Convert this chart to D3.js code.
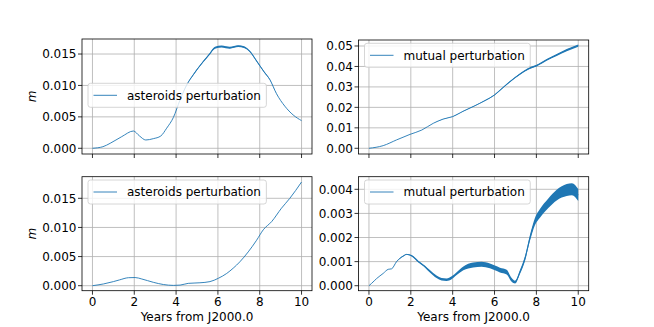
<!DOCTYPE html>
<html><head><meta charset="utf-8">
<script src="https://cdn.jsdelivr.net/npm/d3@7"></script>
<style>body{margin:0;background:#fff}text{font-family:"DejaVu Sans",sans-serif}</style>
</head><body><svg id="c" width="654" height="327"></svg>
<script>
// ---- data ----
const tlT = [0,0.5,0.85,1.4,1.96,2.25,2.55,2.91,3.27,3.55,3.87,4.19,4.51,4.82,5.3,5.6,5.86,6.18,6.57,6.97,7.25,7.53,7.85,8.2,8.49,8.8,9.2,9.6,10];
const tlV = [0,0.00025,0.0008,0.00185,0.00275,0.00196,0.00132,0.00153,0.00196,0.0032,0.0049,0.0077,0.0101,0.0117,0.0138,0.0150,0.0160,0.0162,0.0160,0.01625,0.0161,0.0154,0.0139,0.0122,0.0109,0.0087,0.0067,0.0053,0.0044];
const tlS = [0,0,0,0,0,0,0,0,0,0,0,0.00003,0.00006,0.0001,0.00012,0.00014,0.00015,0.00015,0.00015,0.00015,0.00015,0.00013,0.00012,0.0001,0.00006,0.00003,0,0,0];

const trT = [0,0.68,1.32,1.96,2.52,3.07,3.55,4.0,4.5,5.06,5.54,5.99,6.42,6.74,7.22,7.61,8.01,8.49,8.97,9.45,10];
const trV = [0,0.0013,0.0041,0.0068,0.0089,0.0122,0.0143,0.0155,0.0181,0.0208,0.0233,0.0260,0.0298,0.0326,0.0363,0.0388,0.0404,0.0432,0.0456,0.0480,0.0502];
const trS = [0,0,0,0,0,0,0.00005,0.0001,0.00012,0.00015,0.0002,0.00022,0.00025,0.0003,0.00035,0.0004,0.0004,0.00045,0.0005,0.00055,0.00055];

const blT = [0,0.53,1.0,1.3,1.72,2.04,2.36,2.91,3.39,3.87,4.19,4.58,5.14,5.62,6.02,6.42,6.73,7.05,7.45,7.85,8.17,8.57,9.04,9.44,10];
const blV = [0,0.0003,0.0007,0.001,0.00137,0.0014,0.00115,0.00058,0.0002,0.00005,0.0001,0.0004,0.0005,0.0007,0.00127,0.0021,0.003,0.0041,0.0058,0.0078,0.0096,0.011,0.0133,0.015,0.0178];

const brT = [0,0.13,0.37,0.68,0.92,1.08,1.32,1.64,1.8,2.04,2.36,2.68,2.91,3.23,3.47,3.71,3.95,4.19,4.51,4.98,5.38,5.78,6.26,6.58,6.82,6.98,7.22,7.46,7.69,7.93,8.17,8.57,8.97,9.45,9.7,10];
const brV = [0,0.0001,0.0003,0.00051,0.00068,0.0007,0.001,0.00123,0.0013,0.00124,0.001,0.00079,0.0006,0.00037,0.00027,0.00025,0.00033,0.0005,0.00072,0.00086,0.00089,0.00082,0.00065,0.00056,0.00024,0.00015,0.00058,0.00114,0.00197,0.00266,0.003,0.00342,0.00376,0.00397,0.004,0.00376];
const brS = [0,0,0,0,0,0,0.00001,0.00002,0.00002,0.00003,0.00004,0.00004,0.00005,0.00005,0.00005,0.00005,0.00006,0.00006,0.00008,0.0001,0.0001,0.0001,0.0001,0.0001,0.00008,0.00006,0.00008,0.0001,0.00012,0.00015,0.00018,0.0002,0.00022,0.00025,0.00025,0.00025];

const xTicks = [0,2,4,6,8,10];
const yTicksA = [0,0.005,0.010,0.015];
const yTicksB = [0,0.01,0.02,0.03,0.04,0.05];
const yTicksC = [0,0.001,0.002,0.003,0.004];
const labelAst = "asteroids perturbation";
const labelMut = "mutual perturbation";
const xTitle = "Years from J2000.0";
const yTitle = "m";

// ---- layout ----
const panels = [
  {t:tlT, v:tlV, s:tlS, box:[82,39,312,154], yd:[-0.00091,0.01739], yt:yTicksA, fmt:".3f", label:labelAst, leg:[88,83.3], xlab:false, ylab:true},
  {t:trT, v:trV, s:trS, box:[358.5,40,588.7,154], yd:[-0.00279,0.05293], yt:yTicksB, fmt:".2f", label:labelMut, leg:[364.5,43.3], xlab:false, ylab:false},
  {t:blT, v:blV, s:null, box:[82,176.7,312,290.7], yd:[-0.00086,0.01871], yt:yTicksA, fmt:".3f", label:labelAst, leg:[88,180], xlab:true, ylab:true},
  {t:brT, v:brV, s:brS, box:[358.5,176.7,588.7,290.7], yd:[-0.000207,0.004523], yt:yTicksC, fmt:".3f", label:labelMut, leg:[364.5,180], xlab:true, ylab:false}
];
const blue = "#1f77b4";
const svg = d3.select("#c");

panels.forEach(p => {
  const [x0,y0,x1,y1] = p.box;
  const x = d3.scaleLinear().domain([-0.5,10.5]).range([x0,x1]);
  const y = d3.scaleLinear().domain(p.yd).range([y1,y0]);
  const g = svg.append("g");
  // grid
  xTicks.forEach(t => g.append("line").attr("x1",x(t)).attr("x2",x(t)).attr("y1",y0).attr("y2",y1)
    .attr("stroke","#b0b0b0").attr("stroke-width",0.8));
  p.yt.forEach(t => g.append("line").attr("x1",x0).attr("x2",x1).attr("y1",y(t)).attr("y2",y(t))
    .attr("stroke","#b0b0b0").attr("stroke-width",0.8));
  const data = p.t.map((t,i) => ({t, v:p.v[i], s:p.s ? p.s[i] : 0}));
  if (p.s) {
    const area = d3.area().x(d=>x(d.t)).y0(d=>y(d.v - d.s)).y1(d=>y(d.v + d.s)).curve(d3.curveMonotoneX);
    g.append("path").attr("d", area(data)).attr("fill", blue);
  }
  const line = d3.line().x(d=>x(d.t)).y(d=>y(d.v)).curve(d3.curveMonotoneX);
  g.append("path").attr("d", line(data)).attr("fill","none").attr("stroke",blue).attr("stroke-width",0.9);
  // frame
  g.append("rect").attr("x",x0).attr("y",y0).attr("width",x1-x0).attr("height",y1-y0)
    .attr("fill","none").attr("stroke","#000").attr("stroke-width",0.8);
  // ticks
  xTicks.forEach(t => {
    g.append("line").attr("x1",x(t)).attr("x2",x(t)).attr("y1",y1).attr("y2",y1+4).attr("stroke","#000").attr("stroke-width",0.8);
    if (p.xlab) g.append("text").attr("x",x(t)).attr("y",y1+15.5).attr("text-anchor","middle").attr("font-size",12).attr("fill","#000").text(d3.format("d")(t));
  });
  p.yt.forEach(t => {
    g.append("line").attr("x1",x0-4).attr("x2",x0).attr("y1",y(t)).attr("y2",y(t)).attr("stroke","#000").attr("stroke-width",0.8);
    g.append("text").attr("x",x0-5.5).attr("y",y(t)).attr("dy","0.36em").attr("text-anchor","end").attr("font-size",12).attr("fill","#000").text(d3.format(p.fmt)(t));
  });
  if (p.xlab) g.append("text").attr("x",(x0+x1)/2).attr("y",y1+30.5).attr("text-anchor","middle").attr("font-size",12).attr("fill","#000").text(xTitle);
  if (p.ylab) g.append("text").attr("transform",`translate(35.5,${(y0+y1)/2}) rotate(-90)`).attr("text-anchor","middle")
    .attr("font-size",12).attr("font-style","italic").attr("fill","#000").text(yTitle);
  // legend
  const [lx,ly] = p.leg;
  const lg = g.append("g");
  const rect = lg.append("rect").attr("x",lx).attr("y",ly).attr("height",24).attr("rx",2.5)
    .attr("fill","#fff").attr("fill-opacity",0.8).attr("stroke","#cccccc").attr("stroke-width",0.8);
  lg.append("line").attr("x1",lx+5.5).attr("x2",lx+29).attr("y1",ly+12).attr("y2",ly+12).attr("stroke",blue).attr("stroke-width",0.9);
  const tx = lg.append("text").attr("x",lx+39).attr("y",ly+12).attr("dy","0.36em").attr("font-size",12).attr("fill","#000").text(p.label);
  rect.attr("width", 39 + tx.node().getComputedTextLength() + 5.5);
});
</script></body></html>
